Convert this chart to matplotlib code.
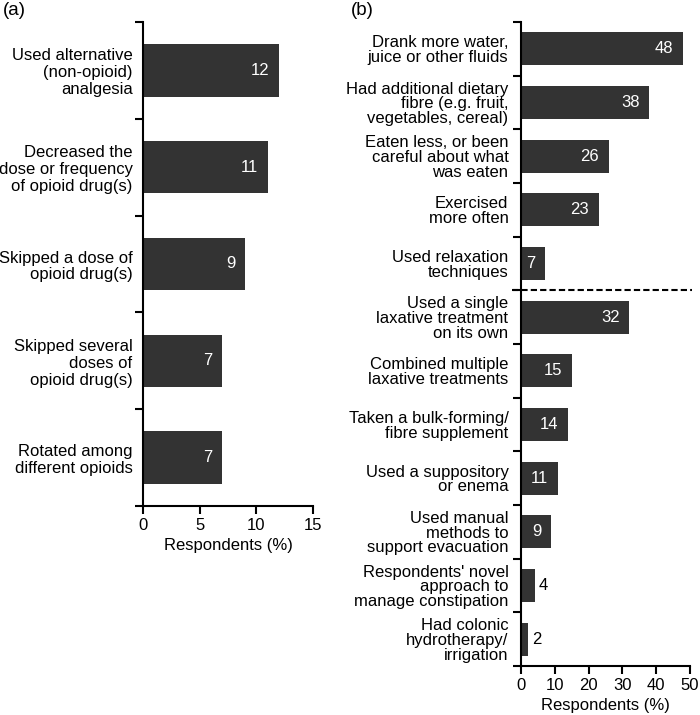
import numpy as np
import matplotlib
matplotlib.use("Agg")
import matplotlib.pyplot as plt
from matplotlib.lines import Line2D

plt.rcParams["font.family"] = ["Liberation Sans", "DejaVu Sans"]
plt.rcParams["font.size"] = 12

# panel (a): opioid-related actions
labels_a = [
    "Used alternative\n(non-opioid)\nanalgesia",
    "Decreased the\ndose or frequency\nof opioid drug(s)",
    "Skipped a dose of\nopioid drug(s)",
    "Skipped several\ndoses of\nopioid drug(s)",
    "Rotated among\ndifferent opioids",
]
values_a = [12, 11, 9, 7, 7]
ticks_a = [0, 5, 10, 15]

# panel (b): constipation management
labels_b = [
    "Drank more water,\njuice or other fluids",
    "Had additional dietary\nfibre (e.g. fruit,\nvegetables, cereal)",
    "Eaten less, or been\ncareful about what\nwas eaten",
    "Exercised\nmore often",
    "Used relaxation\ntechniques",
    "Used a single\nlaxative treatment\non its own",
    "Combined multiple\nlaxative treatments",
    "Taken a bulk-forming/\nfibre supplement",
    "Used a suppository\nor enema",
    "Used manual\nmethods to\nsupport evacuation",
    "Respondents' novel\napproach to\nmanage constipation",
    "Had colonic\nhydrotherapy/\nirrigation",
]
values_b = [48, 38, 26, 23, 7, 32, 15, 14, 11, 9, 4, 2]
ticks_b = [0, 10, 20, 30, 40, 50]
split_after = 5  # dashed separator between lifestyle and laxative groups

bar_color = "#333333"

fig = plt.figure(figsize=(7.0, 7.15), dpi=100)
ax_a = fig.add_axes([143 / 700, 1 - 506 / 715, 170 / 700, 484 / 715])
ax_b = fig.add_axes([521 / 700, 1 - 666 / 715, 169 / 700, 644 / 715])


def draw_panel(ax, labels, values, ticks, height, linespacing, pad, inside_min):
    n = len(values)
    pos = np.arange(n)
    ax.barh(pos, values, height=height, color=bar_color)
    ax.set_ylim(n - 0.5, -0.5)
    ax.set_xlim(ticks[0], ticks[-1])
    ax.set_xticks(ticks)
    ax.set_yticks(pos)
    ax.set_yticklabels(labels, linespacing=linespacing)
    ax.set_yticks(np.arange(n + 1) - 0.5, minor=True)
    ax.tick_params(axis="y", which="major", length=0, pad=pad)
    ax.tick_params(axis="y", which="minor", length=6, width=1.5)
    ax.tick_params(axis="x", length=6, width=1.5, pad=3)
    for side in ["top", "right"]:
        ax.spines[side].set_visible(False)
    for side in ["left", "bottom"]:
        ax.spines[side].set_linewidth(1.5)
    ax.set_xlabel("Respondents (%)", labelpad=3)
    for p, v in zip(pos, values):
        if v >= inside_min:
            ax.annotate(str(v), (v, p), xytext=(-7, 0), textcoords="offset points",
                        ha="right", va="center", color="white")
        else:
            ax.annotate(str(v), (v, p), xytext=(3, 0), textcoords="offset points",
                        ha="left", va="center", color="black")


draw_panel(ax_a, labels_a, values_a, ticks_a, 0.54, 1.15, 7.5, 5)
draw_panel(ax_b, labels_b, values_b, ticks_b, 0.62, 0.98, 9, 5)

# dashed separator in panel (b)
sep = ax_b.get_yaxis_transform()
ax_b.add_line(Line2D([-0.053, 1.01], [split_after - 0.5] * 2, transform=sep,
                     color="black", lw=1.5, dashes=(3, 1.5), clip_on=False))

fig.text(3 / 700, 1 - 2 / 715, "(a)", ha="left", va="top", fontsize=13.5)
fig.text(351 / 700, 1 - 2 / 715, "(b)", ha="left", va="top", fontsize=13.5)

fig.savefig("out.png", dpi=100)
